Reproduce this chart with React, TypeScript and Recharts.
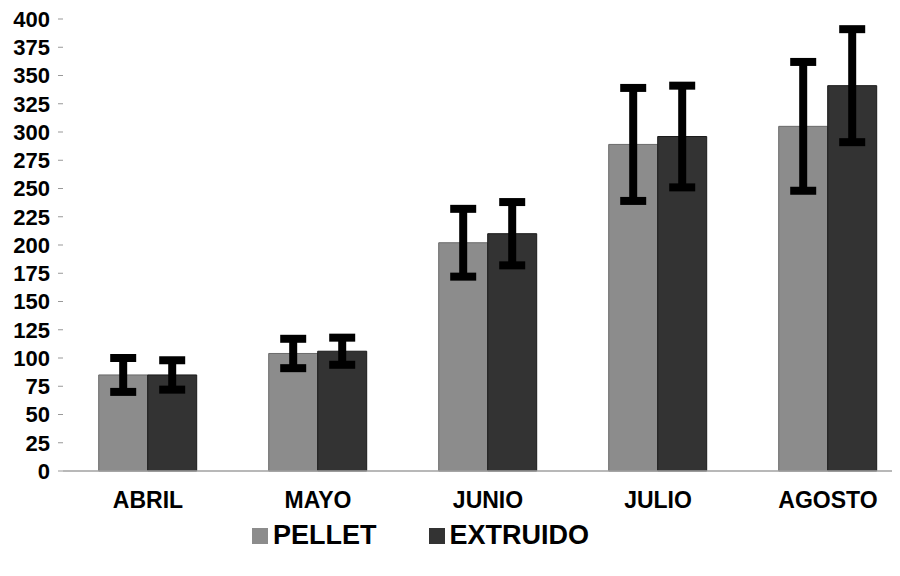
import { BarChart, Bar, XAxis, YAxis, ErrorBar } from "recharts";

const months = ["ABRIL", "MAYO", "JUNIO", "JULIO", "AGOSTO"];
const pellet = [85, 104, 202, 289, 305];
const pelletErr = [15, 13, 30, 50, 57];
const extruido = [85, 106, 210, 296, 341];
const extruidoErr = [13, 12, 28, 45, 50];
const yTicks = [0, 25, 50, 75, 100, 125, 150, 175, 200, 225, 250, 275, 300, 325, 350, 375, 400];

const data = months.map((m, i) => ({
  month: m,
  pellet: pellet[i],
  pelletErr: pelletErr[i],
  extruido: extruido[i],
  extruidoErr: extruidoErr[i],
}));

const font = "'Liberation Sans', Arial, sans-serif";

export default function App() {
  return (
    <div style={{ position: "relative", width: 892, height: 568, overflow: "hidden", background: "#fff" }}>
      <BarChart
        width={910}
        height={568}
        data={data}
        margin={{ top: 11, right: 5, left: 0, bottom: 45 }}
        barCategoryGap="21%"
        barGap={0}
      >
        <XAxis
          dataKey="month"
          axisLine={{ stroke: "#a0a0a0", strokeWidth: 1.5 }}
          tickLine={false}
          tickSize={0}
          tickMargin={21}
          height={60}
          tick={{ fill: "#000", fontSize: 23, fontWeight: 700, fontFamily: font }}
        />
        <YAxis
          domain={[0, 400]}
          ticks={yTicks}
          interval={0}
          width={55}
          axisLine={false}
          tickLine={{ stroke: "#999" }}
          tickSize={5}
          tickMargin={8}
          tick={{ fill: "#000", fontSize: 22, fontWeight: 700, fontFamily: font }}
        />
        <Bar dataKey="pellet" fill="#8c8c8c" stroke="#6a6a6a" strokeWidth={1} isAnimationActive={false}>
          <ErrorBar dataKey="pelletErr" width={13} strokeWidth={8} stroke="#000" />
        </Bar>
        <Bar dataKey="extruido" fill="#333333" stroke="#1a1a1a" strokeWidth={1} isAnimationActive={false}>
          <ErrorBar dataKey="extruidoErr" width={13} strokeWidth={8} stroke="#000" />
        </Bar>
      </BarChart>
      <div
        style={{
          position: "absolute",
          top: 512,
          left: 244,
          display: "flex",
          alignItems: "center",
          fontFamily: font,
          fontWeight: 700,
          fontSize: 27,
          color: "#000",
        }}
      >
        <span style={{ display: "inline-block", width: 16, height: 16, background: "#8c8c8c", marginRight: 5 }} />
        <span style={{ marginRight: 52 }}>PELLET</span>
        <span style={{ display: "inline-block", width: 16, height: 16, background: "#333333", marginRight: 5 }} />
        <span>EXTRUIDO</span>
      </div>
    </div>
  );
}
